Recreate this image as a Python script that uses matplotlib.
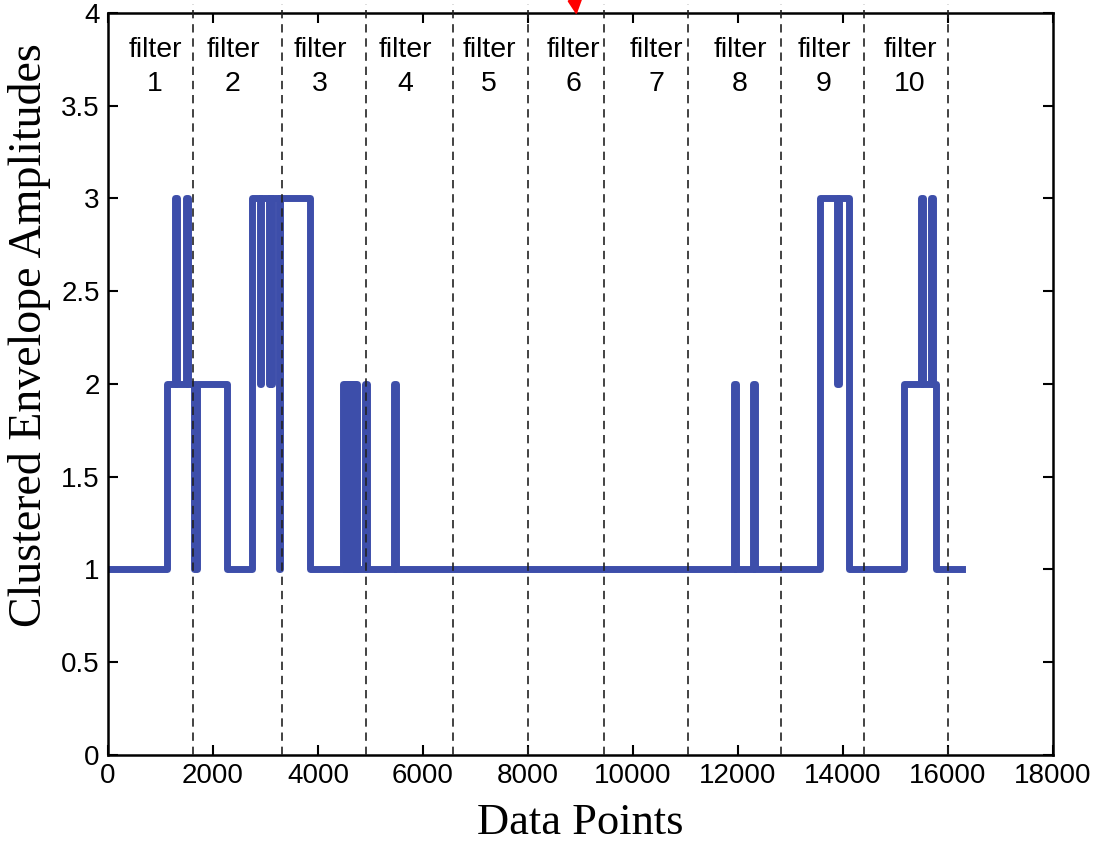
import numpy as np
import matplotlib.pyplot as plt

# clustered envelope levels, stored as change points (start of each level)
change_pts = [0, 1120, 1280, 1320, 1490, 1530, 1640, 1690, 2270, 2750,
              2895, 2905, 3075, 3085, 3110, 3120, 3255, 3270, 3840, 4480,
              4510, 4540, 4570, 4600, 4630, 4660, 4690, 4720, 4750, 4900,
              4940, 5450, 5490, 11930, 11970, 12280, 12320, 13560, 13890, 13930,
              14120, 15160, 15490, 15530, 15680, 15720, 15780, 16270]
levels = [1, 2, 3, 2, 3, 2, 1, 2, 1, 3,
          2, 3, 2, 3, 2, 3, 1, 3, 1, 2,
          1, 2, 1, 2, 1, 2, 1, 2, 1, 2,
          1, 2, 1, 2, 1, 2, 1, 3, 2, 3,
          1, 2, 3, 2, 3, 2, 1, 1]

# filter band boundaries and label positions
bounds = [1619, 3314, 4914, 6571, 8000, 9448, 11048, 12819, 14400, 16000]
label_x = [895, 2381, 4038, 5657, 7257, 8857, 10438, 12038, 13638, 15276]
filter_names = [str(i) for i in range(1, 11)]

sans = 'Liberation Sans'
serif = 'Liberation Serif'

fig = plt.figure(figsize=(10.93, 8.43), dpi=100)
ax = fig.add_axes([0.0988, 0.1044, 0.8646, 0.8802])

ax.plot(change_pts, levels, drawstyle='steps-post', color='#3d4eaa', lw=5)

for b in bounds:
    ax.plot([b, b], [0, 4.05], ls=(0, (5, 3.5)), color='#222222', lw=1.2,
            clip_on=False, zorder=3)

for lx, name in zip(label_x, filter_names):
    ax.text(lx, 3.71, 'filter\n' + name, ha='center', va='center',
            fontsize=20.5, family=sans, linespacing=1.4)

# red marker at the top edge
ax.annotate('', xy=(8930, 3.975), xytext=(8870, 4.12),
            arrowprops=dict(arrowstyle='-|>', color='red', lw=1.5,
                            mutation_scale=22),
            annotation_clip=False)

ax.set_xlim(0, 18000)
ax.set_ylim(0, 4)
ax.set_xticks(np.arange(0, 18001, 2000))
ax.set_yticks(np.arange(0, 4.01, 0.5))
ax.set_yticklabels(['0', '0.5', '1', '1.5', '2', '2.5', '3', '3.5', '4'])
ax.tick_params(direction='in', length=7, width=1.5, top=True, right=True,
               labelsize=20, pad=6)
for lab in ax.get_xticklabels() + ax.get_yticklabels():
    lab.set_family(sans)
for sp in ax.spines.values():
    sp.set_linewidth(1.8)

ax.set_xlabel('Data Points', family=serif, fontsize=32, labelpad=10)
ax.set_ylabel('Clustered Envelope Amplitudes', family=serif, fontsize=33)
ax.yaxis.set_label_coords(-0.06, 0.566)

fig.savefig('out.png', dpi=100)
